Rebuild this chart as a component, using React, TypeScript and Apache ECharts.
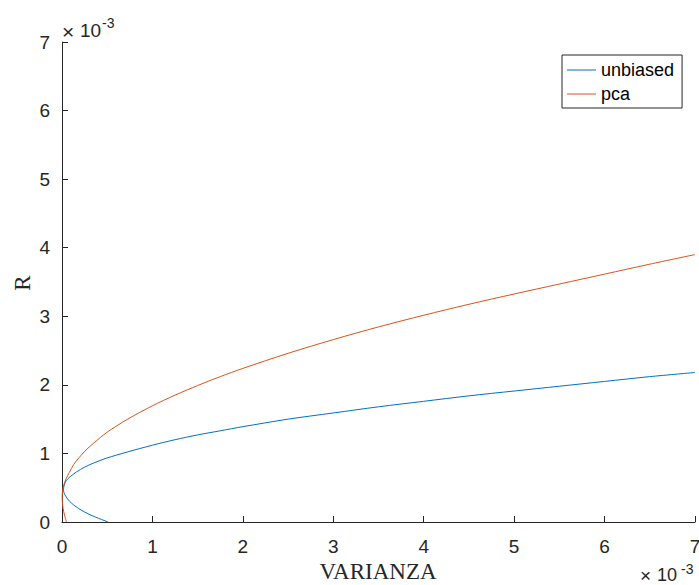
import React, { useEffect, useRef } from "react";
import * as echarts from "echarts";

// Values in units of 10^-3 (as shown by the axis exponent labels)
const unbiasedVarianza = [
  0.51, 0.32, 0.18, 0.085, 0.03, 0.016, 0.025, 0.045, 0.09, 0.16, 0.25, 0.35, 0.49,
  0.72, 1.0, 1.25, 1.5, 1.75, 2.0, 2.5, 3.0, 3.5, 4.0, 4.5, 5.0, 5.5, 6.0, 6.5, 7.0,
];
const unbiasedR = [
  0.0, 0.1, 0.2, 0.3, 0.4, 0.47, 0.54, 0.6, 0.66, 0.73, 0.8, 0.86, 0.93,
  1.02, 1.12, 1.2, 1.27, 1.33, 1.39, 1.5, 1.59, 1.68, 1.76, 1.84, 1.91, 1.98, 2.05, 2.12, 2.18,
];
const pcaVarianza = [
  0.05, 0.028, 0.012, 0.004, 0.002, 0.006, 0.02, 0.045, 0.08, 0.13, 0.19, 0.25, 0.35, 0.5,
  0.72, 1.0, 1.25, 1.5, 1.75, 2.0, 2.5, 3.0, 3.5, 4.0, 4.5, 5.0, 5.5, 6.0, 6.5, 7.0,
];
const pcaR = [
  0.0, 0.1, 0.2, 0.3, 0.37, 0.45, 0.54, 0.63, 0.72, 0.84, 0.94, 1.03, 1.15, 1.31,
  1.495, 1.695, 1.85, 1.99, 2.12, 2.24, 2.46, 2.66, 2.845, 3.015, 3.175, 3.325, 3.47, 3.615, 3.76, 3.9,
];
const seriesNames = ["unbiased", "pca"];
const seriesColors = ["#0072BD", "#D95319"];
const axisMin = 0;
const axisMax = 7;
const axisInterval = 1;
const xTitle = "VARIANZA";
const yTitle = "R";
const exponentBase = "10";
const exponentPower = "-3";

const SANS = "'Liberation Sans', Arial, Helvetica, sans-serif";
const SERIF = "'Liberation Serif', 'Times New Roman', serif";
const INK = "#262626";

export default function App() {
  const ref = useRef<HTMLDivElement>(null);
  useEffect(() => {
    if (!ref.current) return;
    const chart = echarts.init(ref.current, null, { renderer: "svg" });
    const unbiasedData = unbiasedVarianza.map((v, i) => [v, unbiasedR[i]]);
    const pcaData = pcaVarianza.map((v, i) => [v, pcaR[i]]);
    const axisCommon = {
      type: "value" as const,
      min: axisMin,
      max: axisMax,
      interval: axisInterval,
      axisLine: { show: true, onZero: false, lineStyle: { color: INK, width: 1 } },
      axisTick: { show: true, inside: true, length: 6, lineStyle: { color: INK, width: 1 } },
      axisLabel: { color: INK, fontSize: 19, fontFamily: SANS, margin: 12 },
      splitLine: { show: false },
    };
    chart.setOption({
      animation: false,
      backgroundColor: "#ffffff",
      grid: { left: 62, right: 4, top: 42, bottom: 63, containLabel: false, outerBoundsMode: "none" },
      xAxis: { ...axisCommon, axisLabel: { ...axisCommon.axisLabel, margin: 15 } },
      yAxis: { ...axisCommon },
      legend: {
        orient: "vertical",
        left: 562,
        top: 55,
        padding: [6, 8, 5, 5],
        itemGap: 6,
        itemWidth: 29,
        itemHeight: 1,
        icon: "rect",
        borderColor: INK,
        borderWidth: 1,
        backgroundColor: "#ffffff",
        textStyle: { color: "#000000", fontSize: 18, fontFamily: SANS, lineHeight: 18 },
        data: seriesNames,
      },
      series: [
        {
          name: seriesNames[0],
          type: "line",
          data: unbiasedData,
          showSymbol: false,
          symbol: "none",
          smooth: 0.3,
          color: seriesColors[0],
          lineStyle: { color: seriesColors[0], width: 1 },
          emphasis: { disabled: true },
        },
        {
          name: seriesNames[1],
          type: "line",
          data: pcaData,
          showSymbol: false,
          symbol: "none",
          smooth: 0.3,
          color: seriesColors[1],
          lineStyle: { color: seriesColors[1], width: 1 },
          emphasis: { disabled: true },
        },
      ],
      graphic: [
        {
          type: "text",
          x: 378,
          y: 571,
          style: { text: xTitle, fill: INK, font: `23px ${SERIF}`, align: "center", verticalAlign: "middle", lineHeight: 16 },
        },
        {
          type: "text",
          x: 22,
          y: 283,
          rotation: Math.PI / 2,
          style: { text: yTitle, fill: INK, font: `23px ${SERIF}`, align: "center", verticalAlign: "middle" },
        },
        { type: "text", x: 62, y: 31, style: { text: "×", fill: INK, font: `21px ${SANS}`, align: "left", verticalAlign: "middle" } },
        { type: "text", x: 80, y: 30, style: { text: exponentBase, fill: INK, font: `19px ${SANS}`, align: "left", verticalAlign: "middle" } },
        { type: "text", x: 102, y: 23, style: { text: exponentPower, fill: INK, font: `14px ${SANS}`, align: "left", verticalAlign: "middle" } },
        { type: "text", x: 640, y: 575.5, style: { text: "×", fill: INK, font: `19px ${SANS}`, align: "left", verticalAlign: "middle" } },
        { type: "text", x: 657, y: 575, style: { text: exponentBase, fill: INK, font: `18px ${SANS}`, align: "left", verticalAlign: "middle" } },
        { type: "text", x: 681, y: 569, style: { text: exponentPower, fill: INK, font: `14px ${SANS}`, align: "left", verticalAlign: "middle" } },
      ],
    });
    return () => chart.dispose();
  }, []);
  return (
    <div
      ref={ref}
      style={{ position: "fixed", left: 0, top: 0, width: 699, height: 585, background: "#fff" }}
    />
  );
}
